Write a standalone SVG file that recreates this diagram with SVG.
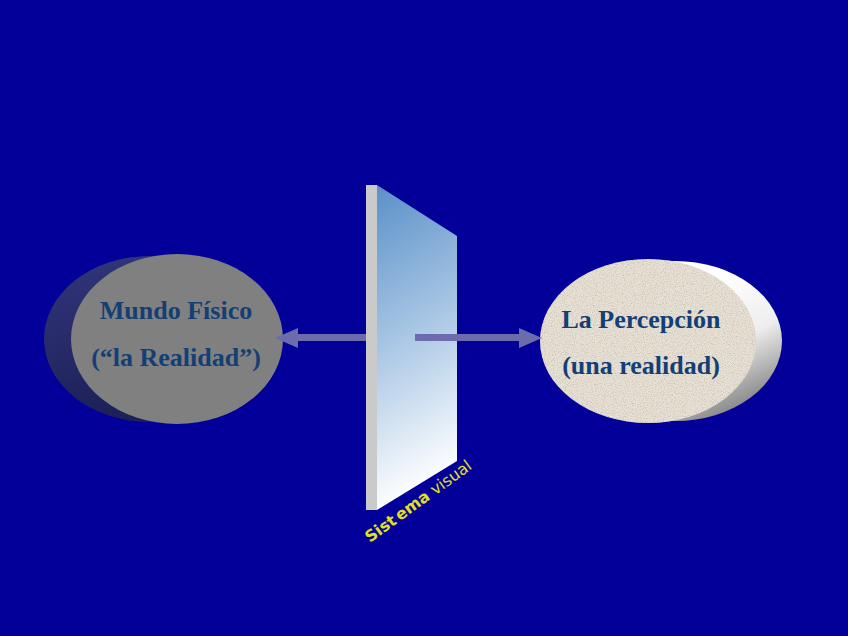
<svg xmlns="http://www.w3.org/2000/svg" width="848" height="636" viewBox="0 0 848 636">
  <defs>
    <style>
      .lbl { font-family: "Liberation Serif", "Times New Roman", serif; font-weight: bold; font-size: 26px; fill: #133f75; text-anchor: middle; }
      .conn { fill: #6c6cac; }
      .sv { font-family: "DejaVu Sans", Verdana, sans-serif; font-size: 16px; fill: #e0e020; }
    </style>
    <linearGradient id="backL" x1="0" y1="0" x2="0.3" y2="1">
      <stop offset="0" stop-color="#32367c"/>
      <stop offset="1" stop-color="#1c2056"/>
    </linearGradient>
    <linearGradient id="backR" x1="0.55" y1="0.2" x2="1" y2="0.9">
      <stop offset="0" stop-color="#ffffff"/>
      <stop offset="0.45" stop-color="#eeeeee"/>
      <stop offset="1" stop-color="#6e6e6e"/>
    </linearGradient>
    <linearGradient id="glass" x1="0" y1="0" x2="0.15" y2="1">
      <stop offset="0" stop-color="#5a90c8"/>
      <stop offset="0.5" stop-color="#a8c6e4"/>
      <stop offset="1" stop-color="#ffffff"/>
    </linearGradient>
    <filter id="grain" x="0" y="0" width="1" height="1">
      <feTurbulence type="fractalNoise" baseFrequency="0.9" numOctaves="2" seed="3" result="n"/>
      <feColorMatrix in="n" type="matrix" values="0 0 0 0 0.55  0 0 0 0 0.5  0 0 0 0 0.42  0 0 0 -2.2 1.25" result="spots"/>
      <feComposite in="spots" in2="SourceGraphic" operator="in" result="s2"/>
      <feMerge><feMergeNode in="SourceGraphic"/><feMergeNode in="s2"/></feMerge>
    </filter>
  </defs>
  <rect width="848" height="636" fill="#020099"/>

  <g id="mundo-fisico">
    <ellipse cx="150" cy="339" rx="106" ry="83" fill="url(#backL)"/>
    <ellipse cx="177" cy="339" rx="106" ry="85" fill="#808080"/>
    <text class="lbl" x="176" y="319">Mundo Físico</text>
    <text class="lbl" x="176" y="366">(“la Realidad”)</text>
  </g>

  <g id="percepcion">
    <ellipse cx="675" cy="341" rx="107" ry="80" fill="url(#backR)"/>
    <ellipse cx="648" cy="341" rx="108" ry="82" fill="#e8e1d5" filter="url(#grain)"/>
    <text class="lbl" x="641" y="328">La Percepción</text>
    <text class="lbl" x="641" y="374">(una realidad)</text>
  </g>

  <g id="connectors">
    <rect class="conn" x="297" y="334" width="70" height="7"/>
    <polygon class="conn" points="275,338 298,328 298,348"/>
  </g>

  <g id="sistema-visual">
    <polygon points="377,185 457,236 457,461 377,510" fill="url(#glass)"/>
    <rect x="366" y="185" width="11" height="325" fill="#cacaca"/>
    <text class="sv" transform="translate(370,543) rotate(-36)"><tspan font-weight="bold">Sist</tspan><tspan font-weight="bold" dx="3">ema</tspan><tspan> visual</tspan></text>
  </g>

  <g id="connectors-2">
    <rect class="conn" x="415" y="334" width="106" height="7"/>
    <polygon class="conn" points="542,338 519,328 519,348"/>
  </g>
</svg>
